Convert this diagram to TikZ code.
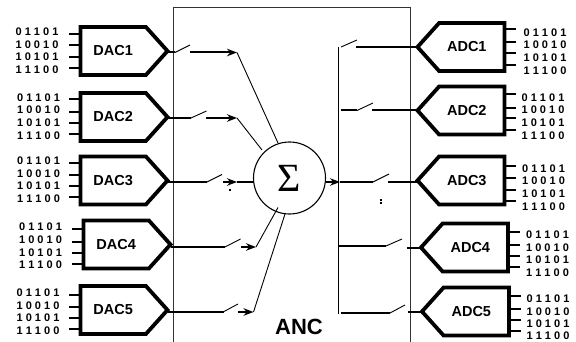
\documentclass[tikz,border=0pt]{standalone}
\usepackage{fontspec}
\setmainfont{Liberation Sans}
\newfontfamily\sumfont{Liberation Serif}
\usetikzlibrary{shapes.symbols, arrows.meta}
\tikzset{
    dacbox/.style={signal, signal to=east, signal pointer angle=96, draw, line width=3.8pt,
          minimum width=87pt, minimum height=48pt, inner sep=0pt, outer sep=0pt, anchor=west,
          font=\bfseries\fontsize{14.5}{16}\selectfont},
    adcbox/.style={signal, signal to=west, signal pointer angle=96, draw, line width=3.8pt,
          minimum width=87pt, minimum height=48pt, inner sep=0pt, outer sep=0pt, anchor=east,
          font=\bfseries\fontsize{14.5}{16}\selectfont, execute at end node={\hspace*{10pt}}},
    bits/.style={inner sep=0pt, font=\bfseries\fontsize{11}{12}\selectfont},
    tickline/.style={line width=2pt},
    sigline/.style={line width=2pt},
    thinline/.style={line width=0.9pt},
    sigarrow/.style={line width=2pt, -{Stealth[length=10pt, width=7.5pt]}},
    dotmark/.style={fill, inner sep=0pt, minimum size=1.6pt}
}
\begin{document}
\begin{tikzpicture}[x=1pt, y=-1pt]
    \useasboundingbox (0,0) rectangle (576,342);

    \coordinate (anctl) at (173,8);
    \coordinate (anctr) at (410.5,8);
    \coordinate (ancbl) at (173,342);
    \coordinate (ancbr) at (410.5,342);
    \draw[line width=1pt, black!80] (ancbl) -- (anctl) -- (anctr) -- (ancbr);
    \node[font=\bfseries\fontsize{22}{24}\selectfont] (anc) at (299,327) {ANC};

    \node[dacbox] (dac1) at (80.5,51) {DAC1};
    \node[dacbox] (dac2) at (80.5,117) {DAC2};
    \node[dacbox] (dac3) at (80.5,180.5) {DAC3};
    \node[dacbox] (dac4) at (83.5,244.5) {DAC4};
    \node[dacbox] (dac5) at (80.5,310) {DAC5};
    \node[adcbox] (adc1) at (504.5,47) {ADC1};
    \node[adcbox] (adc2) at (504.5,110.5) {ADC2};
    \node[adcbox] (adc3) at (504.5,180.5) {ADC3};
    \node[adcbox] (adc4) at (508,247.5) {ADC4};
    \node[adcbox] (adc5) at (509,311.5) {ADC5};

    \foreach \conv/\tx/\ta/\tb/\tc/\td/\ya/\yb/\yc/\yd in {
        dac1/37/32/45/57/70/34/45/57/68,
        dac2/38.5/98/110/123/136/99/112/123/134,
        dac3/38.5/161/174/186/199/163/175/186/197,
        dac4/40.5/227/240/253/265/229/242/253/264,
        dac5/38/293/306/318/331/295/307/318/329} {
        \foreach \word/\ty/\yy in {0 1 1 0 1/\ta/\ya, 1 0 0 1 0/\tb/\yb, 1 0 1 0 1/\tc/\yc, 1 1 1 0 0/\td/\yd} {
            \node[bits] at (\tx,\ty) {\word};
            \coordinate (stub) at (69,\yy);
            \draw[tickline] (stub -| \conv.west) -- ++(-11.5,0);
        }
    }
    \foreach \conv/\tx/\ta/\tb/\tc/\td/\ya/\yb/\yc/\yd in {
        adc1/545/33/45/58/71/29/42/53/65,
        adc2/543/98/110/123/136/94/108/118/130,
        adc3/543.5/169/181/194/207/166/178/190/201,
        adc4/547.5/235/248/260/273/232/245/256/267,
        adc5/548/299/312/324/336/296/309/320/331} {
        \foreach \word/\ty/\yy in {0 1 1 0 1/\ta/\ya, 1 0 0 1 0/\tb/\yb, 1 0 1 0 1/\tc/\yc, 1 1 1 0 0/\td/\yd} {
            \node[bits] at (\tx,\ty) {\word};
            \coordinate (stub) at (520,\yy);
            \draw[tickline] (stub -| \conv.north east) -- ++(11.5,0);
        }
    }

    \node[circle, draw, line width=1.1pt, minimum size=72pt, inner sep=0pt] (sum) at (289.5,178)
        {\sumfont\fontsize{40}{40}\selectfont Σ};

    \coordinate (swa1) at (175,52.5);
    \coordinate (swb1) at (190,45);
    \coordinate (ara1) at (190,52.5);
    \coordinate (arb1) at (237,52.5);
    \coordinate (sum1) at (278,143);
    \draw[sigline] (dac1.east |- swa1) -- (swa1);
    \draw[thinline] (swa1) -- (swb1);
    \draw[sigarrow] (ara1) -- (arb1);
    \draw[thinline] (arb1) -- (sum1);

    \coordinate (swa2) at (191,118);
    \coordinate (swb2) at (206.5,111);
    \coordinate (ara2) at (206,118);
    \coordinate (arb2) at (237,118);
    \coordinate (sum2) at (262,150);
    \draw[sigline] (dac2.east |- swa2) -- (swa2);
    \draw[thinline] (swa2) -- (swb2);
    \draw[sigarrow] (ara2) -- (arb2);
    \draw[thinline] (arb2) -- (sum2);

    \coordinate (swa3) at (207,182);
    \coordinate (swb3) at (222,174.5);
    \coordinate (ara3) at (223,182);
    \coordinate (arb3) at (237,182);
    \coordinate (sum3) at (253.5,182);
    \draw[sigline] (dac3.east |- swa3) -- (swa3);
    \draw[thinline] (swa3) -- (swb3);
    \draw[sigline] (arb3) -- (sum3);
    \draw[sigarrow] (ara3) -- (arb3);

    \coordinate (swa4) at (225,247);
    \coordinate (swb4) at (240.5,239);
    \coordinate (ara4) at (241,247);
    \coordinate (arb4) at (256,247);
    \coordinate (sum4) at (278,207.5);
    \draw[sigline] (dac4.east |- swa4) -- (swa4);
    \draw[thinline] (swa4) -- (swb4);
    \draw[sigarrow] (ara4) -- (arb4);
    \draw[thinline] (arb4) -- (sum4);

    \coordinate (swa5) at (224,311.5);
    \coordinate (swb5) at (238,304);
    \coordinate (ara5) at (238,312);
    \coordinate (arb5) at (253.5,312);
    \coordinate (sum5) at (285,214);
    \draw[sigline] (dac5.east |- swa5) -- (swa5);
    \draw[thinline] (swa5) -- (swb5);
    \draw[sigarrow] (ara5) -- (arb5);
    \draw[thinline] (arb5) -- (sum5);

    \coordinate (sumout) at (325.5,182);
    \coordinate (arout) at (340,182);
    \coordinate (bustop) at (338.5,47);
    \coordinate (busbot) at (338.5,314);
    \draw[thinline] (bustop) -- (busbot);
    \draw[sigarrow] (sumout) -- (arout);

    \coordinate (swc1) at (341,47);
    \coordinate (swd1) at (357,40);
    \coordinate (are1) at (356,47.5);
    \draw[thinline] (swc1) -- (swd1);
    \draw[sigline] (are1) -- (are1 -| adc1.west);

    \coordinate (buso2) at (341,110.5);
    \coordinate (swc2) at (357,110.5);
    \coordinate (swd2) at (373,103);
    \coordinate (are2) at (372,110.5);
    \draw[sigline] (buso2) -- (swc2);
    \draw[thinline] (swc2) -- (swd2);
    \draw[sigline] (are2) -- (are2 -| adc2.west);

    \coordinate (swc3) at (373,182);
    \coordinate (swd3) at (389,174);
    \coordinate (are3) at (388,182);
    \draw[sigline] (arout) -- (swc3);
    \draw[thinline] (swc3) -- (swd3);
    \draw[sigline] (are3) -- (are3 -| adc3.west);

    \coordinate (buso4) at (338.5,246);
    \coordinate (swc4) at (386,246);
    \coordinate (swd4) at (402,239);
    \coordinate (are4) at (407,248);
    \draw[sigline] (buso4) -- (swc4);
    \draw[thinline] (swc4) -- (swd4);
    \draw[sigline] (are4) -- (are4 -| adc4.west);

    \coordinate (buso5) at (341,313);
    \coordinate (swc5) at (390,313);
    \coordinate (swd5) at (405,305);
    \coordinate (are5) at (408,312);
    \draw[sigline] (buso5) -- (swc5);
    \draw[thinline] (swc5) -- (swd5);
    \draw[sigline] (are5) -- (are5 -| adc5.west);

    \node[dotmark] (dota) at (230,190) {};
    \node[dotmark] (dotb) at (381,200) {};
    \node[dotmark] (dotc) at (381,203) {};
\end{tikzpicture}
\end{document}
